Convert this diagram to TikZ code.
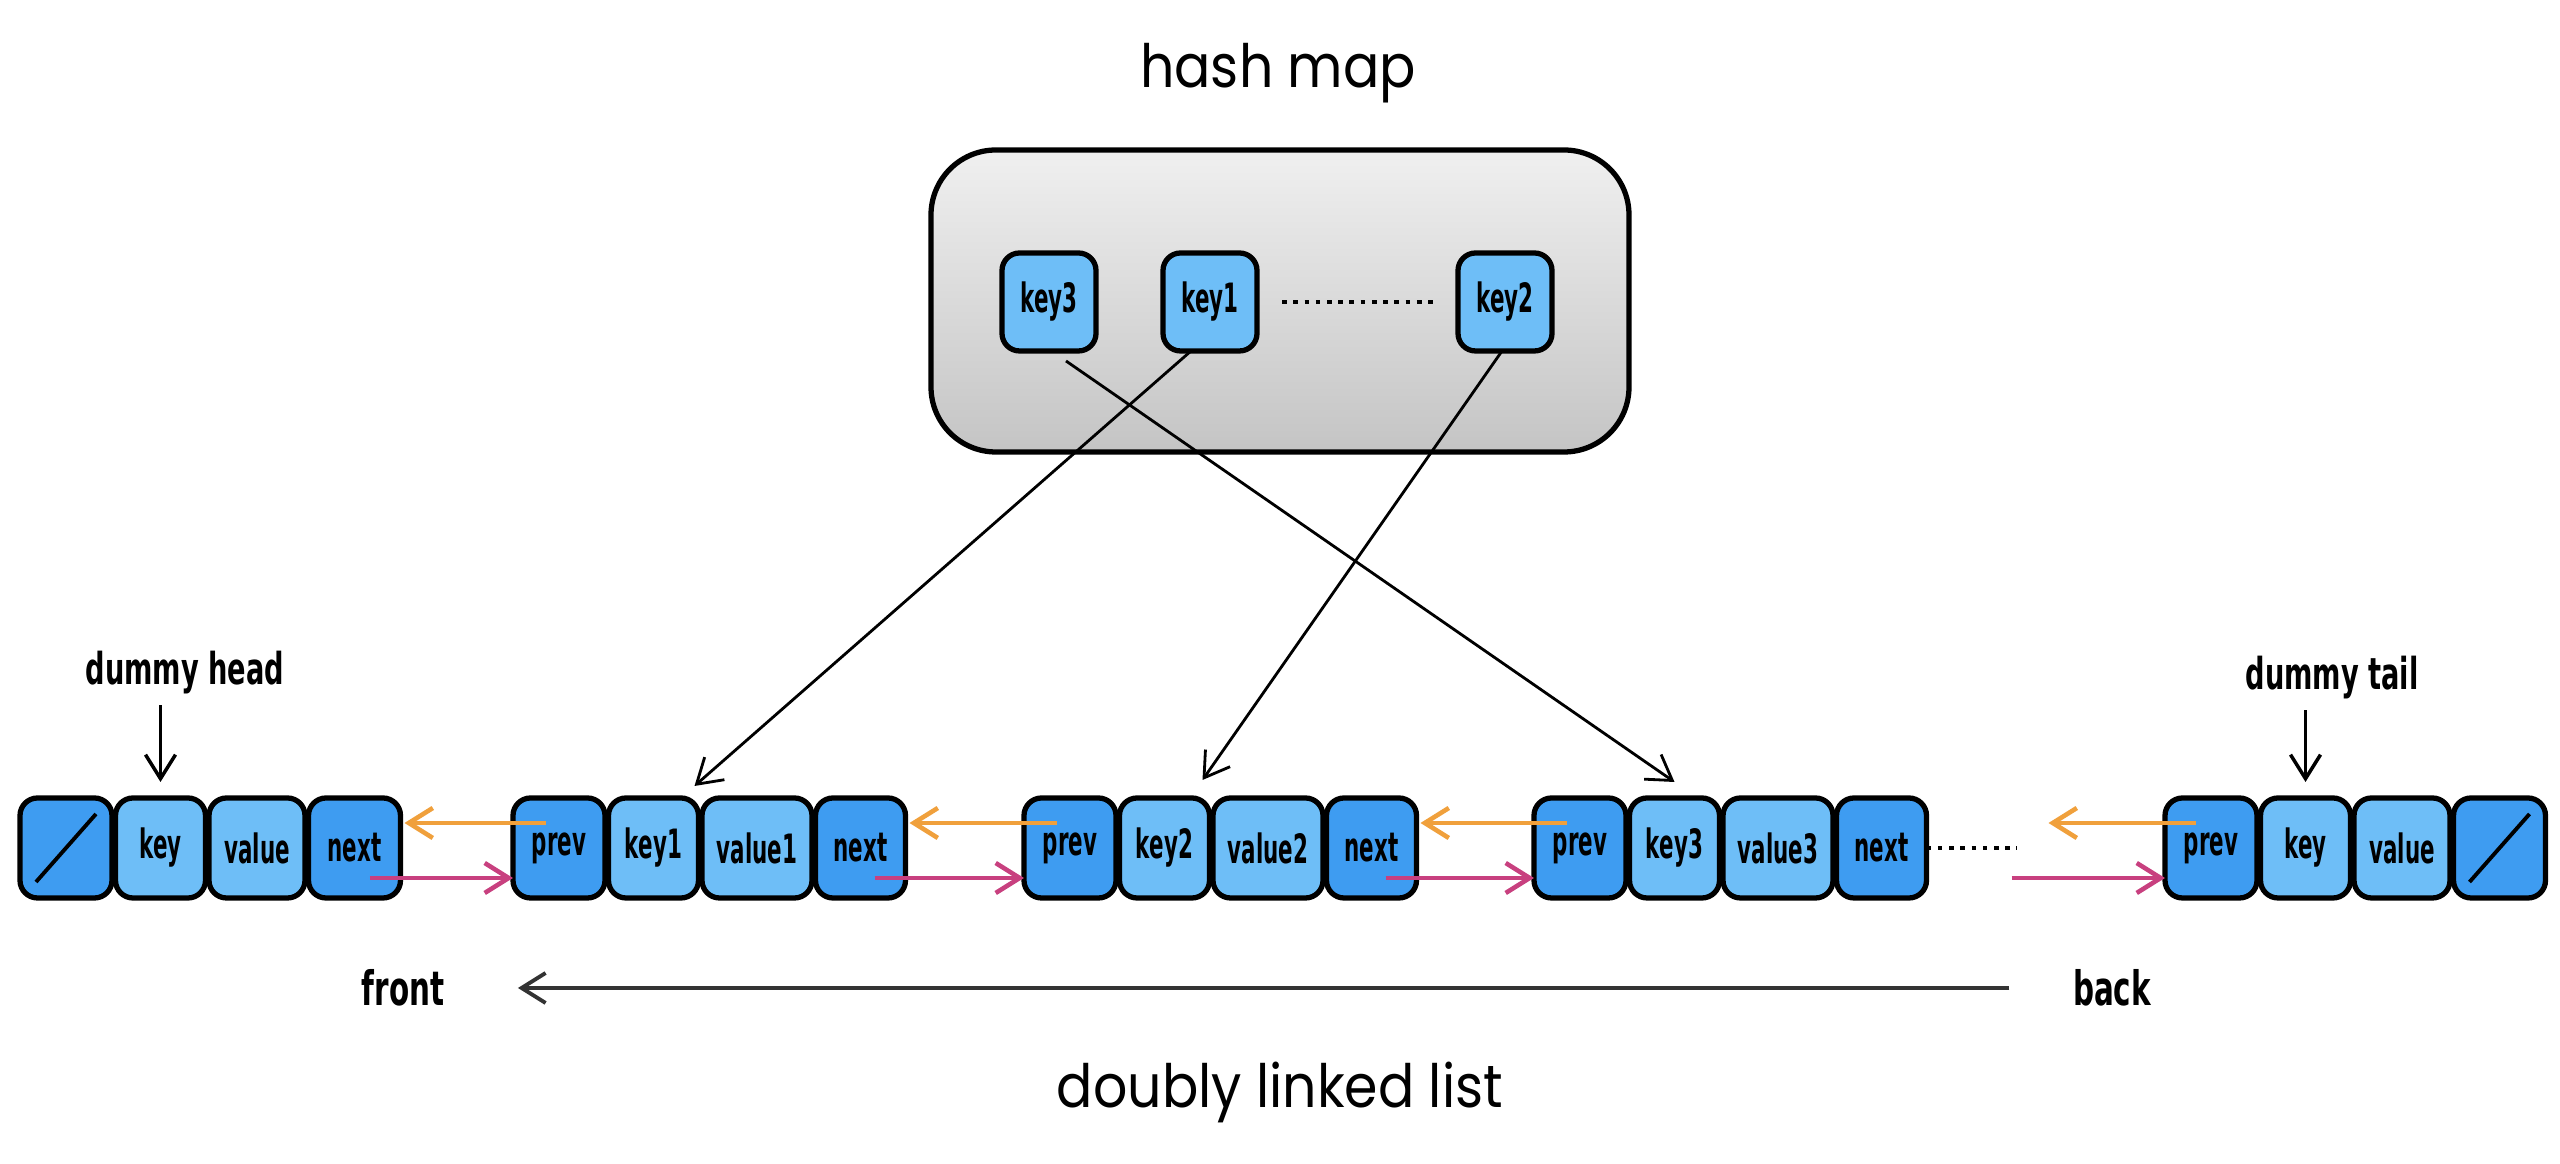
\documentclass[tikz,border=0pt]{standalone}
\usepackage{fontspec}
\newfontfamily\cellfont[FakeStretch=0.53]{DejaVu Sans}
\newfontfamily\lblfont[FakeStretch=0.62]{DejaVu Sans}
\newfontfamily\handfont[FakeStretch=0.9]{Poppins}
\usetikzlibrary{positioning,arrows.meta}
\definecolor{darkcell}{HTML}{3E9CF1}
\definecolor{litecell}{HTML}{6EBEF7}
\definecolor{prevorange}{HTML}{F0A03C}
\definecolor{nextpink}{HTML}{C8407F}

\begin{document}
\begin{tikzpicture}[
    font=\cellfont\bfseries\fontsize{11.5}{13}\selectfont,
    node distance=0.35mm,
    >={Straight Barb[length=2.4mm,width=3mm]},
    cell/.style={
        draw, line width=1.5pt,
        rounded corners=5pt,
        minimum height=10mm,
        inner sep=0pt, outer sep=0pt
    },
    dark/.style={cell, fill=darkcell, minimum width=9.2mm},
    lite/.style={cell, fill=litecell, minimum width=9mm},
    hmap/.style={
        draw, line width=1.5pt,
        rounded corners=6.5mm,
        top color=black!6, bottom color=black!23,
        minimum width=69.8mm,
        minimum height=30.2mm
    },
    title/.style={font=\handfont\fontsize{17}{20}\selectfont, inner sep=0pt},
    lbl/.style={font=\lblfont\bfseries\fontsize{12.5}{15}\selectfont, inner sep=0pt},
    dots/.style={line width=1.2pt, dash pattern=on 1.3pt off 1.9pt},
    ptr/.style={->, line width=0.8pt},
    bwd/.style={->, line width=1.3pt, prevorange},
    fwd/.style={->, line width=1.3pt, nextpink}
]
\useasboundingbox (0,0) rectangle (25.6,11.64);

% Titles
\node[title] (maptitle)  at (12.78,10.91) {hash map};
\node[title] (listtitle) at (12.80,0.72)  {doubly linked list};

% Hash map
\node[hmap] (hashmap) at (12.8,8.63) {};
\node[lite, minimum width=9.4mm, minimum height=9.8mm] (hk3) at (10.49,8.62) {key3};
\node[lite, minimum width=9.4mm, minimum height=9.8mm] (hk1) at (12.10,8.62) {key1};
\node[lite, minimum width=9.4mm, minimum height=9.8mm] (hk2) at (15.05,8.62) {key2};
\draw[dots, shorten <=2.5mm, shorten >=2.5mm] (hk1) -- (hk2);

% Dummy head
\node[dark, anchor=west] (hnull) at (0.2,3.16) {};
\node[lite, right=of hnull]                    (hkey)  {key};
\node[lite, minimum width=9.6mm, right=of hkey] (hval)  {value};
\node[dark, minimum width=9.2mm, right=of hval] (hnext) {next};
\draw[line width=1.1pt] ([shift={(1.6mm,1.6mm)}]hnull.south west) -- ([shift={(-1.6mm,-1.6mm)}]hnull.north east);

% Node 1
\node[dark, anchor=west] (p1) at (5.13,3.16) {prev};
\node[lite, right=of p1]                     (k1) {key1};
\node[lite, minimum width=11mm, right=of k1]   (v1) {value1};
\node[dark, minimum width=9mm, right=of v1]    (n1) {next};

% Node 2
\node[dark, anchor=west] (p2) at (10.24,3.16) {prev};
\node[lite, right=of p2]                     (k2) {key2};
\node[lite, minimum width=11mm, right=of k2]   (v2) {value2};
\node[dark, minimum width=9mm, right=of v2]    (n2) {next};

% Node 3
\node[dark, anchor=west] (p3) at (15.34,3.16) {prev};
\node[lite, right=of p3]                     (k3) {key3};
\node[lite, minimum width=11mm, right=of k3]   (v3) {value3};
\node[dark, minimum width=9mm, right=of v3]    (n3) {next};
\coordinate[right=9mm of n3] (dotend);
\draw[dots] (n3.east) -- (dotend);

% Dummy tail
\node[dark, anchor=west] (tprev) at (21.65,3.16) {prev};
\node[lite, right=of tprev]                     (tkey) {key};
\node[lite, minimum width=9.6mm, right=of tkey] (tval) {value};
\node[dark, right=of tval]                      (tnull) {};
\draw[line width=1.1pt] ([shift={(1.6mm,1.6mm)}]tnull.south west) -- ([shift={(-1.6mm,-1.6mm)}]tnull.north east);

% prev / next links
\draw[bwd] ([xshift=3.3mm,yshift=2.5mm]p1.west) -- ([xshift=0.4mm,yshift=2.5mm]hnext.east);
\draw[bwd] ([xshift=3.3mm,yshift=2.5mm]p2.west) -- ([xshift=0.4mm,yshift=2.5mm]n1.east);
\draw[bwd] ([xshift=3.3mm,yshift=2.5mm]p3.west) -- ([xshift=0.4mm,yshift=2.5mm]n2.east);
\draw[bwd] ([xshift=3.1mm,yshift=2.5mm]tprev.west) -- ([xshift=3.2mm,yshift=2.5mm]dotend);
\draw[fwd] ([xshift=-3.1mm,yshift=-3mm]hnext.east) -- ([yshift=-3mm]p1.west);
\draw[fwd] ([xshift=-3.1mm,yshift=-3mm]n1.east) -- ([yshift=-3mm]p2.west);
\draw[fwd] ([xshift=-3.1mm,yshift=-3mm]n2.east) -- ([yshift=-3mm]p3.west);
\draw[fwd] ([xshift=-0.5mm,yshift=-3mm]dotend) -- ([yshift=-3mm]tprev.west);

% Hash map pointers
\draw[ptr] ([xshift=-1.9mm]hk1.south) -- ([xshift=-0.4mm,yshift=1.2mm]k1.north east);
\draw[ptr] ([xshift=-0.3mm]hk2.south) -- ([xshift=-0.7mm,yshift=1.8mm]k2.north east);
\draw[ptr] ([xshift=1.7mm,yshift=-1mm]hk3.south) -- ([yshift=1.6mm]k3.north);

% Dummy labels
\node[lbl] (dhead) at (1.85,4.91)  {dummy head};
\node[lbl] (dtail) at (23.32,4.86) {dummy tail};
\draw[->, line width=1pt, shorten <=1mm, shorten >=1.6mm] (dhead.south -| hkey) -- (hkey.north);
\draw[->, line width=1pt, shorten <=1mm, shorten >=1.6mm] (dtail.south -| tkey) -- (tkey.north);

% front / back
\node[lbl, font=\lblfont\bfseries\fontsize{13.5}{16}\selectfont] (front) at (4.03,1.76)  {front};
\node[lbl, font=\lblfont\bfseries\fontsize{13.5}{16}\selectfont] (back)  at (21.12,1.76) {back};
\draw[->, line width=1.1pt, black!80, shorten <=6.3mm, shorten >=7.3mm] (back.west) -- (front.east);

\end{tikzpicture}
\end{document}
